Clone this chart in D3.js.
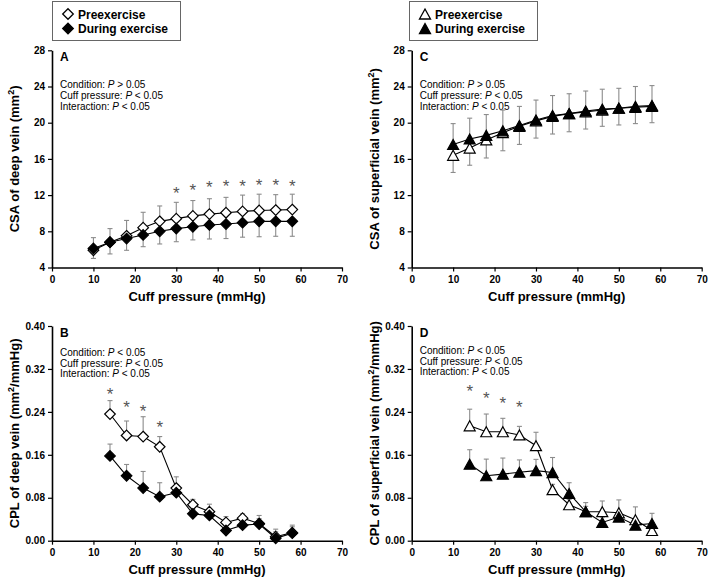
<!DOCTYPE html>
<html><head><meta charset="utf-8">
<script src="https://cdn.jsdelivr.net/npm/d3@7"></script>
<style>
body{margin:0;background:#fff;}
svg{display:block;font-family:Arial,"Liberation Sans",sans-serif;}
.axis path,.axis line{stroke:#000;}
.axis path{stroke-width:1.6;}
.axis line{stroke-width:1.2;}
.axis text{font-size:10px;font-weight:bold;fill:#000;}
</style></head>
<body><div id="chart"></div>
<script>
// ---------------- DATA ----------------
const xTicks = [0,10,20,30,40,50,60,70];
const csaTicks = [4,8,12,16,20,24,28];
const cplTicks = [0,0.08,0.16,0.24,0.32,0.40];

const csaPressure = [10,14,18,22,26,30,34,38,42,46,50,54,58];
const cplPressure = [14,18,22,26,30,34,38,42,46,50,54,58];

// Panel A: CSA of deep vein
const csaDeepPre     = [5.9,6.8,7.5,8.4,9.1,9.4,9.7,9.9,10.05,10.2,10.3,10.35,10.4];
const csaDeepPreSD   = [1.4,1.5,1.7,1.7,1.7,1.8,1.7,1.7,1.7,1.8,1.8,1.7,1.7];
const csaDeepDur     = [6.1,6.8,7.2,7.6,8.0,8.3,8.5,8.7,8.8,8.95,9.1,9.1,9.1];
const csaDeepDurSD   = [1.1,1.3,1.3,1.3,1.4,1.45,1.45,1.55,1.6,1.6,1.7,1.65,1.65];
const csaDeepSigX    = [30,34,38,42,46,50,54,58];
const csaDeepSigY    = [12.56,12.82,13.12,13.23,13.3,13.37,13.37,13.3];

// Panel C: CSA of superficial vein
const csaSupPre      = [16.4,17.2,18.1,18.9,19.6,20.2,20.7,21.0,21.2,21.4,21.6,21.7,21.8];
const csaSupPreSD    = [1.9,1.9,2.0,2.0,2.0,1.9,1.95,2.0,1.9,1.8,1.85,1.8,1.8];
const csaSupDur      = [17.6,18.2,18.6,19.1,19.7,20.3,20.8,21.0,21.3,21.5,21.6,21.8,21.9];
const csaSupDurSD    = [2.3,2.3,2.3,2.3,2.1,2.2,2.2,2.2,2.2,2.2,2.2,2.2,2.2];

// Panel B: CPL of deep vein
const cplDeepPre     = [0.236,0.196,0.194,0.175,0.098,0.067,0.054,0.034,0.042,0.032,0.0075,0.015];
const cplDeepPreSD   = [0.025,0.027,0.037,0.019,0.021,0.010,0.014,0.011,0.008,0.015,0.014,0.014];
const cplDeepDur     = [0.158,0.121,0.098,0.082,0.0895,0.050,0.047,0.019,0.029,0.031,0.0045,0.014];
const cplDeepDurSD   = [0.022,0.021,0.031,0.026,0.015,0.008,0.010,0.010,0.010,0.010,0.012,0.012];
const cplDeepSigX    = [14,18,22,26];
const cplDeepSigY    = [0.278,0.253,0.247,0.216];

// Panel D: CPL of superficial vein
const cplSupPre      = [0.214,0.203,0.203,0.197,0.177,0.095,0.067,0.054,0.054,0.052,0.039,0.019];
const cplSupPreSD    = [0.031,0.033,0.025,0.016,0.025,0.010,0.010,0.017,0.020,0.024,0.024,0.010];
const cplSupDur      = [0.1425,0.121,0.124,0.1275,0.1305,0.127,0.088,0.054,0.034,0.044,0.029,0.032];
const cplSupDurSD    = [0.027,0.031,0.030,0.023,0.021,0.028,0.020,0.010,0.010,0.010,0.010,0.019];
const cplSupSigX     = [14,18,22,26];
const cplSupSigY     = [0.284,0.270,0.261,0.253];

const seriesNames = ["Preexercise","During exercise"];
const statsA = [["Condition: ","P"," > 0.05"],["Cuff pressure: ","P"," < 0.05"],["Interaction: ","P"," < 0.05"]];
const statsB = [["Condition: ","P"," < 0.05"],["Cuff pressure: ","P"," < 0.05"],["Interaction: ","P"," < 0.05"]];
const xTitle = "Cuff pressure (mmHg)";

// ---------------- DRAWING ----------------
const W = 709, H = 578;
const svg = d3.select("#chart").append("svg").attr("width",W).attr("height",H);

function diamondPath(r){ return `M0,${-r}L${r},0L0,${r}L${-r},0Z`; }
function trianglePath(w,h){ return `M0,${-h/2}L${w/2},${h/2}L${-w/2},${h/2}Z`; }

const markers = {
  diamond: diamondPath(5.3),
  triangle: trianglePath(11,10)
};

function drawPanel(cfg){
  const g = svg.append("g");
  const x = d3.scaleLinear().domain([0,70]).range([cfg.left, cfg.left+290]);
  const y = d3.scaleLinear().domain(cfg.yDomain).range([cfg.bottom, cfg.top]);

  g.append("g").attr("class","axis").attr("transform",`translate(0,${cfg.bottom})`)
    .call(d3.axisBottom(x).tickValues(xTicks).tickSize(4).tickSizeOuter(0).tickPadding(4).tickFormat(d3.format("d")));
  g.append("g").attr("class","axis").attr("transform",`translate(${cfg.left},0)`)
    .call(d3.axisLeft(y).tickValues(cfg.yTicks).tickSize(4).tickSizeOuter(0).tickPadding(3).tickFormat(cfg.fmt));

  // axis titles
  g.append("text").attr("x",cfg.left+145).attr("y",cfg.bottom+33).attr("text-anchor","middle")
    .attr("font-size",13).attr("font-weight","bold").text(xTitle);
  const yt = g.append("text").attr("transform",`translate(${cfg.left-33},${(cfg.top+cfg.bottom)/2}) rotate(-90)`)
    .attr("text-anchor","middle").attr("font-size",13).attr("font-weight","bold");
  yt.append("tspan").text(cfg.yTitle[0]);
  yt.append("tspan").attr("font-size",9).attr("dy",-5).text("2");
  yt.append("tspan").attr("dy",5).text(cfg.yTitle[1]);

  // panel letter
  g.append("text").attr("x",cfg.left+8).attr("y",cfg.top+11).attr("font-size",12).attr("font-weight","bold").text(cfg.letter);

  // stats
  cfg.stats.forEach((s,i)=>{
    const t = g.append("text").attr("x",cfg.left+8).attr("y",cfg.top+cfg.statsOff+i*10.6).attr("font-size",10);
    t.append("tspan").text(s[0]);
    t.append("tspan").attr("font-style","italic").text(s[1]);
    t.append("tspan").text(s[2]);
  });

  // error bars
  cfg.series.forEach(s=>{
    const eg = g.append("g").attr("stroke","#8c8c8c").attr("stroke-width",1.1);
    s.vals.forEach((v,i)=>{
      const px = x(cfg.xs[i]);
      const ye = y(v + s.dir*s.sd[i]);
      eg.append("line").attr("x1",px).attr("x2",px).attr("y1",y(v)).attr("y2",ye);
      eg.append("line").attr("x1",px-2.5).attr("x2",px+2.5).attr("y1",ye).attr("y2",ye);
    });
  });
  // lines
  cfg.series.forEach(s=>{
    g.append("path").datum(s.vals.map((v,i)=>[cfg.xs[i],v]))
      .attr("fill","none").attr("stroke","#000").attr("stroke-width",1.1)
      .attr("d",d3.line().x(d=>x(d[0])).y(d=>y(d[1])));
  });
  // markers
  cfg.series.forEach(s=>{
    g.append("g").selectAll("path").data(s.vals).join("path")
      .attr("transform",(v,i)=>`translate(${x(cfg.xs[i])},${y(v)})`)
      .attr("d",markers[cfg.shape])
      .attr("fill",s.filled?"#000":"#fff").attr("stroke","#000").attr("stroke-width",1.2);
  });
  // significance asterisks
  g.append("g").selectAll("text").data(cfg.sigY).join("text")
    .attr("x",(v,i)=>x(cfg.sigX[i])).attr("y",v=>y(v)+8.5)
    .attr("text-anchor","middle").attr("font-size",17).attr("fill","#555").text("*");
}

const csaFmt = d3.format("d");
const cplFmt = d3.format(".2f");

drawPanel({letter:"A",left:52,top:50.3,bottom:267.5,yDomain:[4,28],yTicks:csaTicks,fmt:csaFmt,statsOff:38,
  yTitle:["CSA of deep vein (mm",")"],stats:statsA,shape:"diamond",xs:csaPressure,
  series:[{vals:csaDeepPre,sd:csaDeepPreSD,dir:1,filled:false},{vals:csaDeepDur,sd:csaDeepDurSD,dir:-1,filled:true}],
  sigX:csaDeepSigX,sigY:csaDeepSigY});
drawPanel({letter:"C",left:411.7,top:50.3,bottom:267.5,yDomain:[4,28],yTicks:csaTicks,fmt:csaFmt,statsOff:38,
  yTitle:["CSA of superficial vein (mm",")"],stats:statsA,shape:"triangle",xs:csaPressure,
  series:[{vals:csaSupPre,sd:csaSupPreSD,dir:-1,filled:false},{vals:csaSupDur,sd:csaSupDurSD,dir:1,filled:true}],
  sigX:[],sigY:[]});
drawPanel({letter:"B",left:52,top:326,bottom:540.7,yDomain:[0,0.40],yTicks:cplTicks,fmt:cplFmt,statsOff:30,
  yTitle:["CPL of deep vein (mm","/mmHg)"],stats:statsB,shape:"diamond",xs:cplPressure,
  series:[{vals:cplDeepPre,sd:cplDeepPreSD,dir:1,filled:false},{vals:cplDeepDur,sd:cplDeepDurSD,dir:1,filled:true}],
  sigX:cplDeepSigX,sigY:cplDeepSigY});
drawPanel({letter:"D",left:411.7,top:326,bottom:540.7,yDomain:[0,0.40],yTicks:cplTicks,fmt:cplFmt,statsOff:28,
  yTitle:["CPL of superficial vein (mm","/mmHg)"],stats:statsB,shape:"triangle",xs:cplPressure,
  series:[{vals:cplSupPre,sd:cplSupPreSD,dir:1,filled:false},{vals:cplSupDur,sd:cplSupDurSD,dir:1,filled:true}],
  sigX:cplSupSigX,sigY:cplSupSigY});

// legends
function legend(x0, shape){
  const g = svg.append("g");
  g.append("rect").attr("x",x0+0.5).attr("y",1.5).attr("width",128).attr("height",39)
    .attr("fill","#fff").attr("stroke","#666").attr("stroke-width",1);
  seriesNames.forEach((n,i)=>{
    const cy = 14 + i*14.5;
    g.append("path").attr("transform",`translate(${x0+16},${cy})`).attr("d",markers[shape])
      .attr("fill",i? "#000":"#fff").attr("stroke","#000").attr("stroke-width",1.3);
    g.append("text").attr("x",x0+26).attr("y",cy+4.5).attr("font-size",12).attr("font-weight","bold").text(n);
  });
}
legend(52,"diamond");
legend(409,"triangle");
</script></body></html>
